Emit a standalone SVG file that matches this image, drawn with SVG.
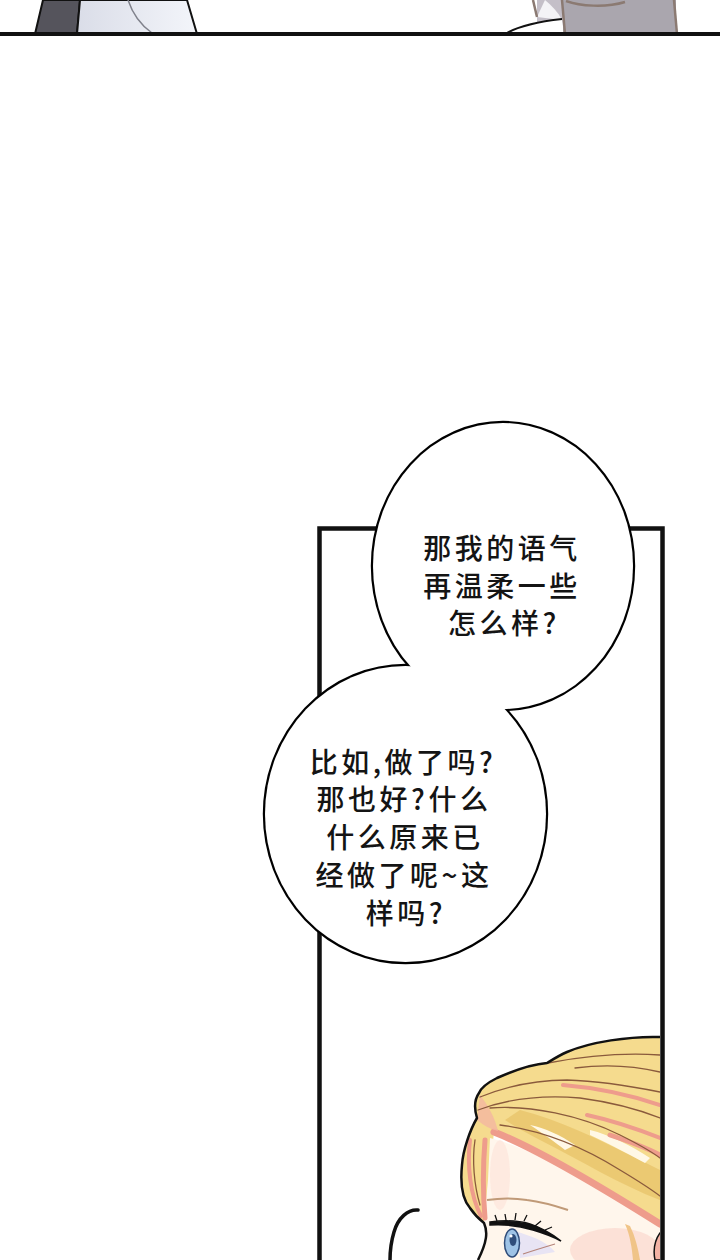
<svg xmlns="http://www.w3.org/2000/svg" width="720" height="1260" viewBox="0 0 720 1260">
<defs>
<style>
.bub{fill:#fff;stroke:#000;stroke-width:4.4}
.bubfill{fill:#fff;stroke:none}
.txt{font-family:"Noto Sans CJK SC","Noto Sans",sans-serif;font-size:28px;font-weight:500;fill:#141414;text-anchor:middle;letter-spacing:3.5px}
.strand{fill:none;stroke:#8a5a3c;stroke-width:1.3;stroke-linecap:round}
.pink{fill:none;stroke:#ee9c8c;stroke-linecap:round}
.brown{fill:none;stroke:#8b7a72;stroke-width:2.5}
</style>
<linearGradient id="cloth" x1="0" y1="0" x2="1" y2="0">
<stop offset="0" stop-color="#dadde8"/>
<stop offset="1" stop-color="#f3f5fa"/>
</linearGradient>
<clipPath id="panelClip"><rect x="322" y="531" width="338" height="730"/></clipPath>
</defs>
<rect width="720" height="1260" fill="#fff"/>

<g id="top-strip">
<polygon points="43,0 80,0 77,34 35,34" fill="#55545c" stroke="#111" stroke-width="2"/>
<polygon points="80,0 187,0 197,34 77,34" fill="url(#cloth)" stroke="#111" stroke-width="2"/>
<path d="M128,0 C133,15 142,26 152,33" fill="none" stroke="#80828c" stroke-width="1.5"/>
<polygon points="537,0 562,0 564,34 537,34" fill="#c4bfc8"/>
<path d="M545,0 C552,6 558,12 562,20 L537,17 Z" fill="#f4f3f6"/>
<path d="M505,34 C515,28 535,22 562,19 L564,34 Z" fill="#fff"/>
<path d="M505,34 C515,28 535,22 562,19" fill="none" stroke="#111" stroke-width="2"/>
<rect x="563" y="0" width="113" height="34" fill="#aaa6ae"/>
<path class="brown" d="M533,0 L537,17"/>
<path class="brown" d="M562,0 L565,34"/>
<path class="brown" d="M674,0 L677,34"/>
<path class="brown" d="M566,1 C580,6 605,8 625,2"/>
<rect x="0" y="32" width="720" height="4" fill="#111"/>
</g>

<g id="panel">
<rect x="319.5" y="528.5" width="343" height="800" fill="#fff" stroke="#111" stroke-width="4.5"/>
</g>

<g id="character" clip-path="url(#panelClip)">
<path d="M660,1037 C630,1036 590,1042 567,1052 C558,1056 552,1060 547,1063 C535,1064 515,1070 497,1078 C487,1083 481,1088 479,1093 C474,1100 474,1108 477,1118 C470,1130 463,1150 462,1165 C460,1185 463,1200 470,1208 C474,1214 479,1219 484,1223 L490,1180 L494,1130 C530,1145 590,1180 660,1226 Z" fill="#f5db8e"/>
<path d="M484,1223 L488,1180 L490,1138 C530,1148 590,1180 660,1226 L660,1260 L478,1260 C484,1248 487,1236 484,1223 Z" fill="#fff6ec"/>
<ellipse cx="615" cy="1250" rx="45" ry="22" fill="#fbdcd2" opacity="0.8"/>
<ellipse cx="500" cy="1175" rx="10" ry="35" fill="#fde6dc" opacity="0.7"/>
<path d="M520,1110 C560,1120 600,1140 640,1160 L660,1170 L660,1200 C620,1185 580,1160 540,1140 C525,1132 512,1125 505,1120 Z" fill="#e9c46c" opacity="0.8"/>
<path d="M530,1125 C545,1128 560,1135 575,1145 L565,1150 C555,1142 545,1135 530,1125 Z" fill="#fff8e6"/>
<path d="M590,1130 C610,1135 630,1145 650,1158 L645,1163 C625,1152 605,1142 590,1135 Z" fill="#fff8e6"/>
<path d="M563,1085 C600,1088 630,1095 660,1105" class="pink" stroke-width="4"/>
<path d="M587,1115 C610,1120 635,1128 660,1138" class="pink" stroke-width="4"/>
<path d="M610,1135 C625,1140 645,1147 660,1155" class="pink" stroke-width="5"/>
<path d="M494,1132 C530,1146 590,1180 660,1224" class="pink" stroke-width="7"/>
<path d="M480,1095 C488,1105 495,1118 498,1131 C490,1129 483,1125 477,1120 Z" fill="#f3b9a0" opacity="0.85"/>
<path d="M470,1140 C467,1165 470,1195 481,1216" class="pink" stroke-width="4"/>
<path d="M485,1140 C483,1165 483,1195 485,1218" class="pink" stroke-width="5"/>
<path d="M480,1097 C510,1085 540,1080 567,1080 C600,1081 630,1086 660,1092" class="strand"/>
<path d="M478,1110 C510,1098 545,1095 580,1098 C610,1102 640,1110 660,1118" class="strand"/>
<path d="M490,1108 C530,1105 580,1115 620,1135 C640,1145 652,1152 660,1158" class="strand"/>
<path d="M500,1125 C540,1130 580,1145 620,1170 C640,1182 652,1190 660,1196" class="strand"/>
<path d="M548,1063 C590,1055 630,1053 660,1055" class="strand"/>
<path d="M575,1068 C605,1064 635,1066 660,1072" class="strand"/>
<path d="M475,1140 C472,1160 474,1185 480,1205" class="strand"/>
<path d="M660,1037 C630,1036 590,1042 567,1052 C558,1056 552,1060 547,1063 C535,1064 515,1070 497,1078 C487,1083 481,1088 479,1093 C474,1100 474,1108 477,1118 C470,1130 463,1150 462,1165 C460,1185 463,1200 470,1208 C474,1214 479,1219 484,1223 C488,1232 487,1242 478,1260" fill="none" stroke="#111" stroke-width="2.5" stroke-linejoin="round"/>
<path d="M625,1224 C630,1235 632,1248 633,1260 L640,1260 C638,1248 635,1236 630,1226 Z" fill="#f0c488"/>
<path d="M660,1233 C655,1240 653,1250 655,1260 L662,1260 L662,1233 Z" fill="#f3b2a4" stroke="#111" stroke-width="1.5"/>
<path d="M487,1200 C500,1198 515,1198 527,1200 C543,1202 556,1206 568,1210" fill="none" stroke="#c09a78" stroke-width="2"/>
<path d="M518,1232 C530,1236 545,1240 555,1252 L520,1258 Z" fill="#e8e4f4"/>
<ellipse cx="512" cy="1243" rx="7.5" ry="14" fill="#9ec3e6" stroke="#2f4d7a" stroke-width="1.5"/>
<ellipse cx="513" cy="1240" rx="3.5" ry="6" fill="#2f4d7a"/>
<circle cx="511" cy="1236" r="1.6" fill="#fff"/>
<path d="M490,1222 C505,1220 520,1221 530,1224 C542,1228 552,1234 561,1241 C552,1236 543,1233 533,1230 C520,1226 505,1224 490,1225 Z" fill="#111" stroke="#111" stroke-width="1.5"/>
<path d="M497,1221 L495,1215 M506,1220 L505,1214 M515,1220 L516,1213 M524,1221 L527,1215 M535,1226 L541,1221 M545,1230 L552,1227" stroke="#111" stroke-width="1.3" fill="none"/>
<path d="M523,1254 C535,1250 545,1247 555,1244" fill="none" stroke="#b5847a" stroke-width="1.2"/>
<path d="M418,1210 C408,1209 398,1218 394,1232 C391,1242 390,1252 390,1260" fill="none" stroke="#111" stroke-width="3.5" stroke-linecap="round"/>
</g>

<g id="bubble1">
<ellipse class="bub" cx="503" cy="566" rx="130" ry="143"/>
</g>
<g id="bubble2">
<ellipse class="bub" cx="405.5" cy="814" rx="140.5" ry="148"/>
<ellipse class="bubfill" cx="503" cy="566" rx="130" ry="143"/>
<ellipse class="bubfill" cx="405.5" cy="814" rx="140.5" ry="148"/>
</g>
<g id="bubble1-text">
<text class="txt" x="502" y="559">那我的语气</text>
<text class="txt" x="502" y="597">再温柔一些</text>
<text class="txt" x="504" y="634">怎么样?</text>
</g>
<g id="bubble2-text">
<text class="txt" x="403" y="773">比如,做了吗?</text>
<text class="txt" x="404" y="810">那也好?什么</text>
<text class="txt" x="405" y="848">什么原来已</text>
<text class="txt" x="404" y="886">经做了呢~这</text>
<text class="txt" x="406" y="924">样吗?</text>
</g>
</svg>
